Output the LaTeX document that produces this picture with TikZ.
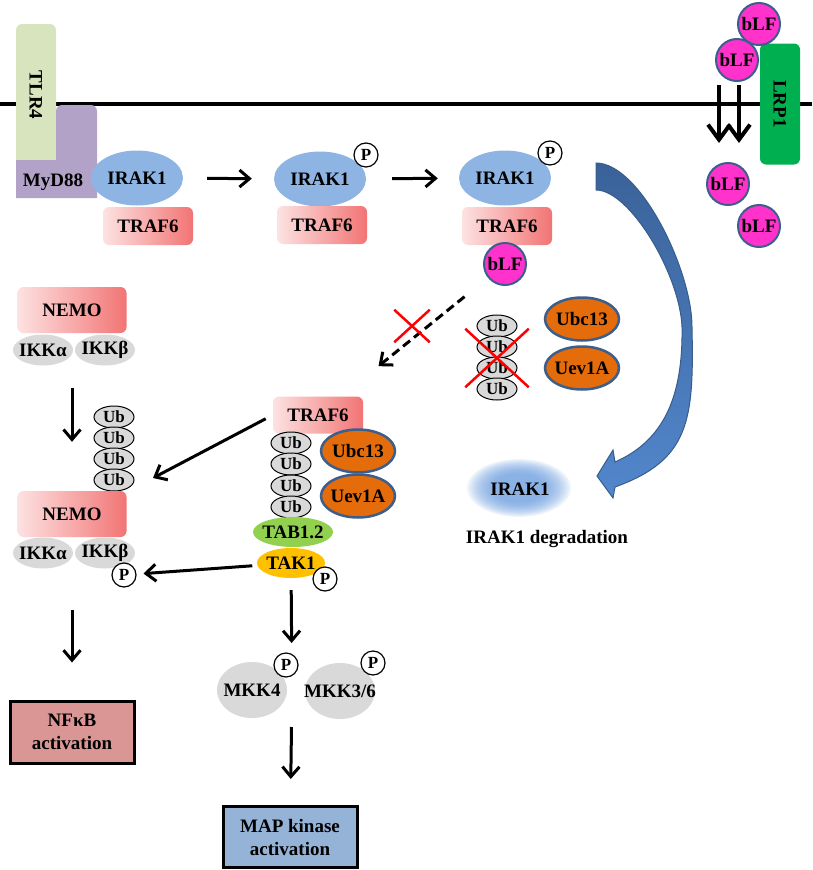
\documentclass[tikz,border=0pt]{standalone}
\usepackage{fontspec}
\setmainfont{Liberation Serif}
\usepackage{xcolor}
\usepackage{tikz}
\usetikzlibrary{positioning}
\usetikzlibrary{shapes.geometric,shapes.misc,arrows.meta}

\definecolor{tlrgreen}{HTML}{D7E4BD}
\definecolor{mydpurple}{HTML}{B3A2C7}
\definecolor{irakblue}{HTML}{8EB4E3}
\definecolor{pinkL}{HTML}{FDE2E2}
\definecolor{pinkR}{HTML}{F27474}
\definecolor{blfpink}{HTML}{FF33CC}
\definecolor{rimblue}{HTML}{3B5E8C}
\definecolor{lrpgreen}{HTML}{00B050}
\definecolor{ubgray}{HTML}{D9D9D9}
\definecolor{ubcorange}{HTML}{E46C0A}
\definecolor{tabgreen}{HTML}{92D050}
\definecolor{takyellow}{HTML}{FFC000}
\definecolor{nfkbred}{HTML}{D99694}
\definecolor{mapblue}{HTML}{95B3D7}
\definecolor{bendtop}{HTML}{3A6299}
\definecolor{bendbot}{HTML}{5287CC}
\definecolor{benddraw}{HTML}{385D8A}
\definecolor{degblue}{HTML}{6A9CDE}

\begin{document}
\begin{tikzpicture}
                [x=1pt, y=-1pt,
                txt/.style = {font=\fontsize{19}{23}\selectfont\bfseries},
                irak/.style = {ellipse, fill=irakblue, minimum width=92, minimum height=55, inner sep=0, txt},
                traf/.style = {rectangle, rounded corners=6, left color=pinkL, right color=pinkR, minimum width=90, minimum height=38, inner sep=0, txt},
                pdot/.style = {circle, draw, fill=white, line width=1.2, minimum size=24, inner sep=0, font=\fontsize{17}{17}\selectfont\bfseries},
                blf/.style = {circle, fill=blfpink, draw=rimblue, line width=2, minimum size=42, inner sep=0, txt},
                ub/.style = {ellipse, fill=ubgray, draw, line width=1, minimum width=40, minimum height=22, inner sep=0, font=\fontsize{17}{17}\selectfont\bfseries},
                ubc/.style = {ellipse, fill=ubcorange, draw=rimblue, line width=2.5, minimum width=74, minimum height=43, inner sep=0},
                ikk/.style = {ellipse, fill=ubgray, minimum width=60, minimum height=31, inner sep=0},
                mkk/.style = {ellipse, fill=ubgray, minimum width=70, minimum height=56, inner sep=0},
                outbox/.style = {rectangle, draw, line width=3, align=center, txt},
                arr/.style = {line width=3, -{Straight Barb[length=10pt, width=17pt]}},
                cross/.style = {cross out, draw=red, line width=2.5, inner sep=0}]
                \useasboundingbox (0,0) rectangle (812,870);
                % Membrane
                \coordinate (memL) at (0,104);
                \coordinate (memR) at (812,104);
                \draw[line width=4.5] (memL) -- (memR);
                % Receptors
                \node[rectangle, rounded corners=6, fill=tlrgreen, rotate=-90, minimum width=142, minimum height=40, inner sep=0, txt] (tlr4) at (36,95) {TLR4};
                \fill[mydpurple] (16,198) -- (16,160) -- (56,160) {[rounded corners=6] -- (56,105) -- (97,105) -- (97,160)} -- (97,198) -- cycle;
                \node[txt] (myd88) at (53,182) {MyD88};
                \node[rectangle, rounded corners=6, fill=lrpgreen, rotate=-90, minimum width=121, minimum height=40, inner sep=0, txt] (lrp1) at (780,104) {LRP1};
                % bLF uptake
                \node[blf] (blf1) at (759,24) {bLF};
                \node[blf] (blf2) at (737,60) {bLF};
                \node[blf] (blf3) at (728,184) {bLF};
                \node[blf] (blf4) at (759,226) {bLF};
                \coordinate (inA1) at (719,85);
                \coordinate (inA2) at (719,143);
                \coordinate (inB1) at (739,85);
                \coordinate (inB2) at (739,143);
                \draw[line width=4, -{Straight Barb[length=15pt, width=22pt]}] (inA1) -- (inA2);
                \draw[line width=4, -{Straight Barb[length=15pt, width=22pt]}] (inB1) -- (inB2);
                % IRAK1 / TRAF6 complexes
                \node[irak] (irak1a) at (137,178) {IRAK1};
                \node[traf] (traf6a) at (148,226) {TRAF6};
                \node[irak] (irak1b) at (320,179) {IRAK1};
                \node[traf] (traf6b) at (322,225) {TRAF6};
                \node[pdot] (pb) at (366,155) {P};
                \node[irak] (irak1c) at (505,178) {IRAK1};
                \node[traf] (traf6c) at (507,226) {TRAF6};
                \node[pdot] (pc) at (550,153) {P};
                \node[blf] (blfc) at (505,264) {bLF};
                \draw[arr, shorten <=24, shorten >=22] (irak1a) -- (irak1b);
                \draw[arr, shorten <=26, shorten >=21] (irak1b) -- (irak1c);
                % Blocked ubiquitination
                \node[ub] (ubx1) at (497,326) {Ub};
                \node[ub] (ubx2) at (497,347) {Ub};
                \node[ub] (ubx3) at (497,368) {Ub};
                \node[ub] (ubx4) at (497,389) {Ub};
                \node[cross, minimum width=61, minimum height=56] (xub) at (497,358) {};
                \node[ubc, label={[txt]center:Ubc13}] (ubc13r) at (582,319) {};
                \node[ubc, label={[txt]center:Uev1A}] (uev1ar) at (582,368) {};
                % Degradation
                \shade[top color=bendtop, bottom color=bendbot, draw=benddraw, line width=1]
                  (596,163) .. controls (640,163) and (692,270) .. (692,327)
                  .. controls (694,420) and (690,460) .. (615,487)
                  -- (613,498) -- (597,476) -- (613,450) -- (615,462)
                  .. controls (665,440) and (683,395) .. (682,327)
                  .. controls (680,275) and (630,190) .. (596,190) -- cycle;
                \foreach \k in {0,...,13}
                  \fill[degblue, opacity=0.1] (519,488) ellipse [x radius={52-2*\k}, y radius={29-1.1*\k}];
                \node[txt] (irakdeg) at (520,489) {IRAK1};
                \node[txt] (deglbl) at (547,539) {IRAK1 degradation};
                % TRAF6 signalling complex
                \node[traf, minimum height=37] (traf6m) at (318,415) {TRAF6};
                \node[ub] (ubm1) at (291,443) {Ub};
                \node[ub] (ubm2) at (291,464) {Ub};
                \node[ub] (ubm3) at (291,486) {Ub};
                \node[ub] (ubm4) at (291,507) {Ub};
                \node[ubc, label={[txt]center:Ubc13}] (ubc13m) at (358,451) {};
                \node[ubc, label={[txt]center:Uev1A}] (uev1am) at (358,496) {};
                \node[ellipse, fill=tabgreen, minimum width=80, minimum height=30, inner sep=0, label={[txt]center:TAB1.2}] (tab12) at (293,532) {};
                \node[ellipse, fill=takyellow, minimum width=68, minimum height=30, inner sep=0, label={[txt]center:TAK1}] (tak1) at (291,563) {};
                \node[pdot] (ptak) at (325,579) {P};
                \draw[arr, dash pattern=on 9pt off 5pt, shorten <=30, shorten >=48] (blfc) -- (traf6m);
                \node[cross, minimum width=33, minimum height=30] (xdash) at (412,326) {};
                % NEMO / IKK
                \node[traf, minimum width=109, minimum height=46] (nemo1) at (72,310) {NEMO};
                \node[ikk, label={[txt]center:IKKα}] (ikka1) at (43,350) {};
                \node[ikk, label={[txt]center:IKKβ}] (ikkb1) at (105,350) {};
                \node[ub] (ubl1) at (114,417) {Ub};
                \node[ub] (ubl2) at (114,438) {Ub};
                \node[ub] (ubl3) at (114,459) {Ub};
                \node[ub] (ubl4) at (114,480) {Ub};
                \node[traf, minimum width=109, minimum height=46] (nemo2) at (72,514) {NEMO};
                \node[ikk, label={[txt]center:IKKα}] (ikka2) at (43,553) {};
                \node[ikk, label={[txt]center:IKKβ}] (ikkb2) at (105,553) {};
                \node[pdot] (pikk) at (124,575) {P};
                \coordinate (ubtip) at (153,478);
                \draw[arr, shorten <=55, shorten >=49] (nemo1) -- (nemo2);
                \draw[arr, shorten <=8] (traf6m.west) -- (ubtip);
                \draw[arr, shorten <=5, shorten >=7] (tak1) -- (pikk);
                % MAP kinases
                \coordinate (mkkmid) at (292,690);
                \node[mkk, label={[txt]center:MKK4}] (mkk4) at (252,690) {};
                \node[mkk, label={[txt]center:MKK3/6}] (mkk36) at (340,691) {};
                \node[pdot] (pmkk4) at (286,665) {P};
                \node[pdot] (pmkk36) at (373,663) {P};
                \draw[arr, shorten <=12, shorten >=47] (tak1) -- (mkkmid);
                % Outputs
                \node[outbox, fill=nfkbred, minimum width=124, minimum height=62] (nfkb) at (72,732) {NFκB\\activation};
                \node[outbox, fill=mapblue, minimum width=134, minimum height=61] (mapk) at (290,837) {MAP kinase\\activation};
                \draw[arr, shorten <=73, shorten >=37] (nemo2) -- (nfkb);
                \draw[arr, shorten <=37, shorten >=26] (mkkmid) -- (mapk);
            \end{tikzpicture}
\end{document}
